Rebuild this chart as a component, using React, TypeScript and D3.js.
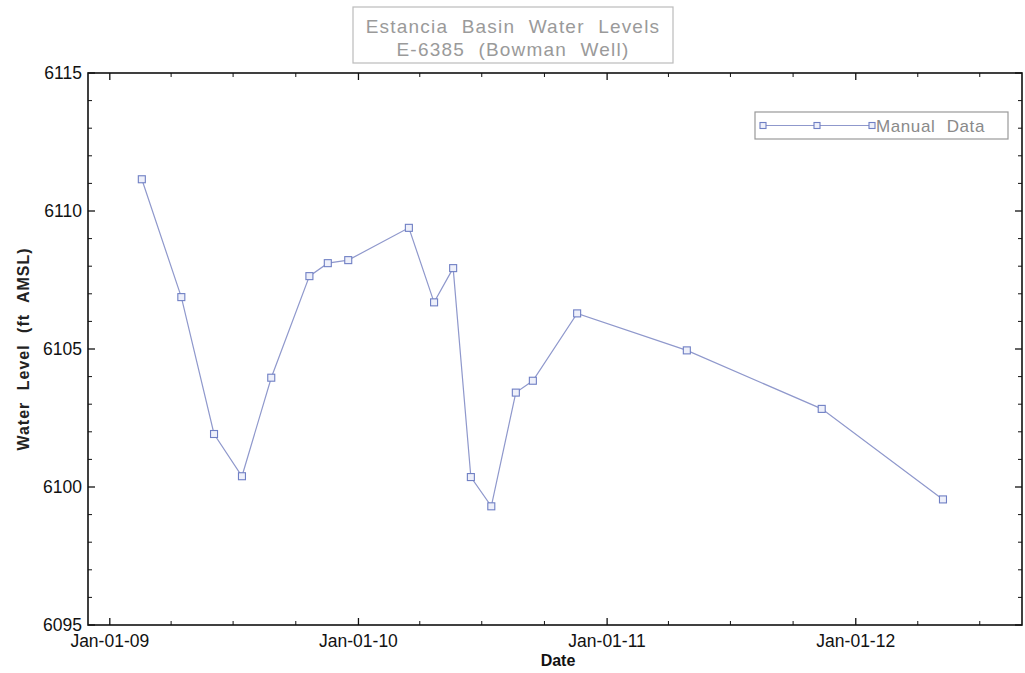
import React from "react";
import * as d3 from "d3";

const titleLines = ["Estancia Basin Water Levels", "E-6385 (Bowman Well)"];
const seriesName = "Manual Data";
const dates = [
  "2009-02-17", "2009-04-16", "2009-06-03", "2009-07-14", "2009-08-26",
  "2009-10-21", "2009-11-17", "2009-12-17", "2010-03-16", "2010-04-22",
  "2010-05-20", "2010-06-15", "2010-07-15", "2010-08-20", "2010-09-14",
  "2010-11-18", "2011-04-28", "2011-11-12", "2012-05-08",
];
const levels = [
  6111.15, 6106.88, 6101.92, 6100.39, 6103.96,
  6107.64, 6108.11, 6108.22, 6109.39, 6106.69,
  6107.93, 6100.36, 6099.30, 6103.42, 6103.85,
  6106.29, 6104.95, 6102.83, 6099.55,
];
const yTicks = [6095, 6100, 6105, 6110, 6115];
const xTickDates = ["2009-01-01", "2010-01-01", "2011-01-01", "2012-01-01"];
const xDomain = ["2008-11-30", "2012-09-01"];
const yDomain = [6095, 6115];

const W = 1025, H = 673;
const L = 88, R = 1022, T = 73, B = 625;
const parse = d3.utcParse("%Y-%m-%d");
const fmt = d3.utcFormat("%b-%d-%y");

export default function App() {
  const x = d3.scaleUtc().domain(xDomain.map((d) => parse(d)!)).range([L, R]);
  const y = d3.scaleLinear().domain(yDomain).range([B, T]);
  const pts = dates.map((d, i) => ({ x: x(parse(d)!), y: y(levels[i]) }));
  const line = d3.line<{ x: number; y: number }>().x((d) => d.x).y((d) => d.y);
  const minorY = d3.range(yDomain[0], yDomain[1] + 1, 1).filter((v) => v % 5 !== 0);
  const minorX = d3.utcMonth.every(3)!.range(x.domain()[0], x.domain()[1]).filter((d) => d.getUTCMonth() !== 0);
  const majorX = xTickDates.map((d) => parse(d)!);
  const axisColor = "#111";
  const lineColor = "#8f98cc";
  const markColor = "#6f7fc4";
  const font = "'Liberation Sans', Arial, sans-serif";
  const lg = { x0: 755, y0: 112, w: 253, h: 27 };
  const lgMarks = [763, 817, 872];

  return (
    <div style={{ position: "absolute", left: 0, top: 0 }}>
      <svg width={W} height={H} style={{ display: "block", background: "#fff" }}>
        {/* title */}
        <rect x={353} y={7} width={320} height={56} fill="#fff" stroke="#bbb" strokeWidth={1.2} />
        {titleLines.map((t, i) => (
          <text key={i} x={513} y={33 + i * 23} textAnchor="middle" fontFamily={font} fontSize={19}
            fill="#9a9a9a" style={{ letterSpacing: "1.2px", wordSpacing: "7px" }}>{t}</text>
        ))}
        {/* axes frame */}
        <rect x={L} y={T} width={R - L} height={B - T} fill="none" stroke={axisColor} strokeWidth={1.6} />
        {/* y ticks */}
        {yTicks.map((v) => (
          <g key={v}>
            <line x1={L} x2={L + 7} y1={y(v)} y2={y(v)} stroke={axisColor} strokeWidth={1.3} />
            <line x1={R} x2={R - 7} y1={y(v)} y2={y(v)} stroke={axisColor} strokeWidth={1.3} />
            <text x={82} y={y(v) + 6} textAnchor="end" fontFamily={font} fontSize={17.5} fill="#111">{v}</text>
          </g>
        ))}
        {minorY.map((v) => (
          <g key={v}>
            <line x1={L} x2={L + 4} y1={y(v)} y2={y(v)} stroke={axisColor} strokeWidth={1} />
            <line x1={R} x2={R - 4} y1={y(v)} y2={y(v)} stroke={axisColor} strokeWidth={1} />
          </g>
        ))}
        {/* x ticks */}
        {majorX.map((d, i) => (
          <g key={i}>
            <line x1={x(d)} x2={x(d)} y1={B} y2={B - 7} stroke={axisColor} strokeWidth={1.3} />
            <line x1={x(d)} x2={x(d)} y1={T} y2={T + 7} stroke={axisColor} strokeWidth={1.3} />
            <text x={x(d)} y={647} textAnchor="middle" fontFamily={font} fontSize={17.5} fill="#111">{fmt(d)}</text>
          </g>
        ))}
        {minorX.map((d, i) => (
          <g key={i}>
            <line x1={x(d)} x2={x(d)} y1={B} y2={B - 4} stroke={axisColor} strokeWidth={1} />
            <line x1={x(d)} x2={x(d)} y1={T} y2={T + 4} stroke={axisColor} strokeWidth={1} />
          </g>
        ))}
        {/* axis titles */}
        <text x={558} y={666} textAnchor="middle" fontFamily={font} fontSize={16} fontWeight="bold" fill="#111">Date</text>
        <text transform={`translate(29,349) rotate(-90)`} textAnchor="middle" fontFamily={font} fontSize={16}
          fontWeight="bold" fill="#222" style={{ letterSpacing: "1px", wordSpacing: "6px" }}>Water Level (ft AMSL)</text>
        {/* series */}
        <path d={line(pts) || ""} fill="none" stroke={lineColor} strokeWidth={1.2} />
        {pts.map((p, i) => (
          <rect key={i} x={p.x - 3.5} y={p.y - 3.5} width={7} height={7} fill="#eef0fa" stroke={markColor} strokeWidth={1.1} />
        ))}
        {/* legend */}
        <rect x={lg.x0} y={lg.y0} width={lg.w} height={lg.h} fill="#fff" stroke="#999" strokeWidth={1.2} />
        <line x1={lgMarks[0]} x2={lgMarks[2]} y1={lg.y0 + 13.5} y2={lg.y0 + 13.5} stroke={lineColor} strokeWidth={1.2} />
        {lgMarks.map((mx, i) => (
          <rect key={i} x={mx - 3} y={lg.y0 + 10.5} width={6} height={6} fill="#eef0fa" stroke={markColor} strokeWidth={1.1} />
        ))}
        <text x={876} y={lg.y0 + 20} fontFamily={font} fontSize={17} fill="#8a8a8a"
          style={{ letterSpacing: "0.6px", wordSpacing: "6px" }}>{seriesName}</text>
      </svg>
    </div>
  );
}
